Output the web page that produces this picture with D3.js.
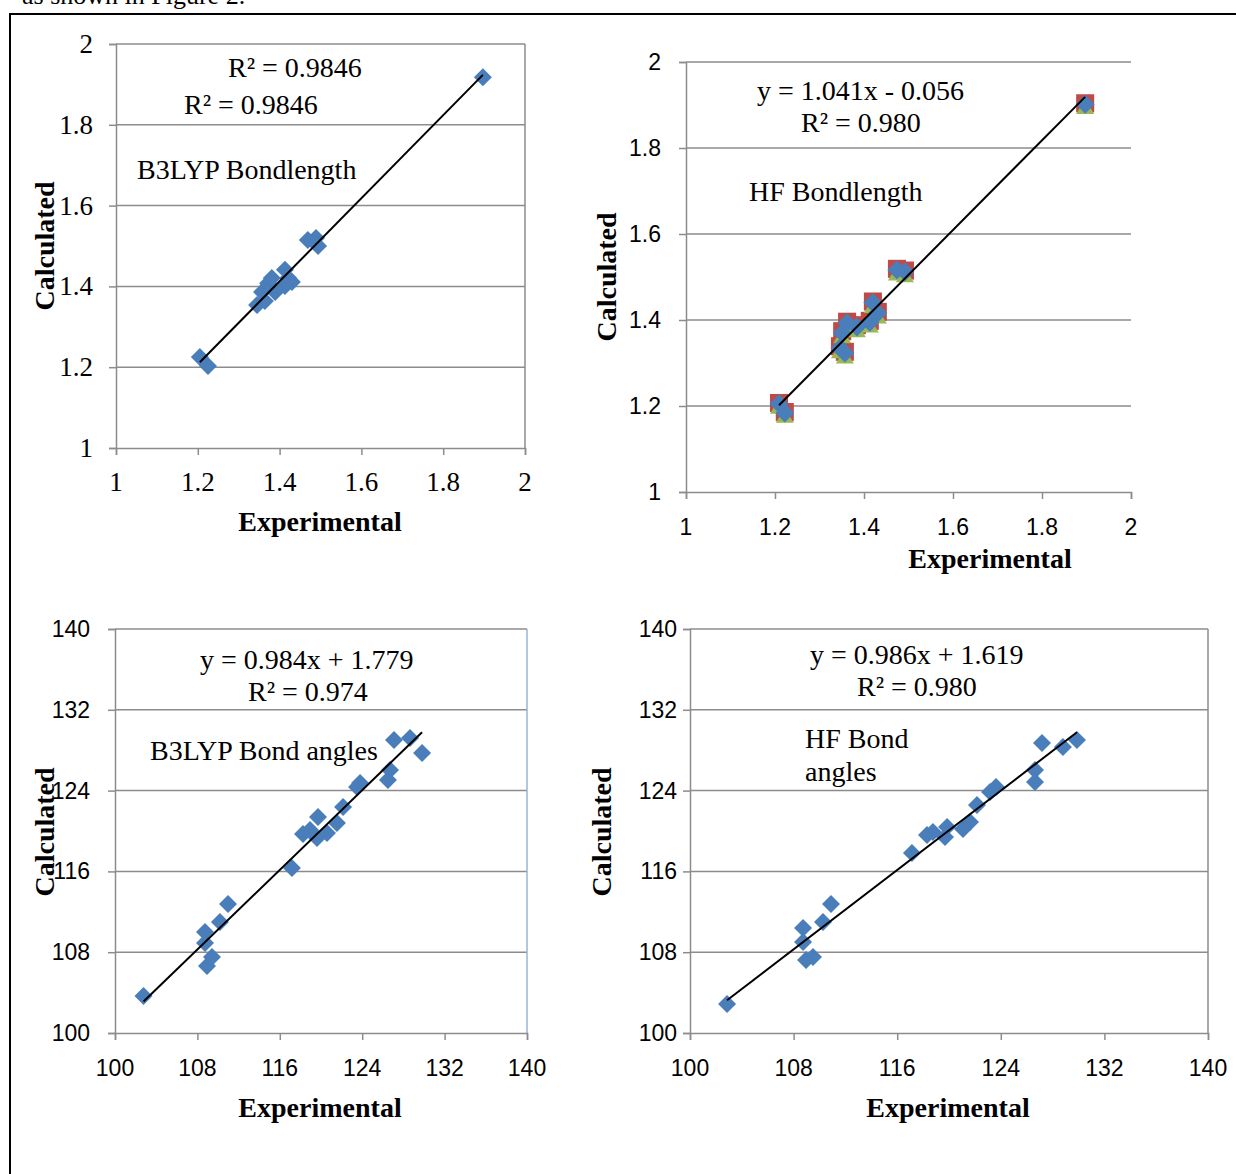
<!DOCTYPE html>
<html lang="en">
<head>
    <meta charset="UTF-8">
    <title>Experimental vs Calculated</title>
    <style>
        body, html {
            margin: 0;
            padding: 0;
            background-color: #ffffff;
        }
        svg {
            display: block;
        }
    </style>
</head>
<body>
    <script src="https://d3js.org/d3.v7.min.js"></script>
    <script>
        // --- data ---
        // B3LYP bond lengths
        var b3lypLenExp  = [1.205, 1.225, 1.345, 1.357, 1.372, 1.381, 1.413, 1.421, 1.430, 1.413, 1.389, 1.364, 1.469, 1.489, 1.494, 1.897];
        var b3lypLenCalc = [1.225, 1.203, 1.354, 1.386, 1.408, 1.421, 1.441, 1.421, 1.411, 1.401, 1.386, 1.364, 1.515, 1.520, 1.500, 1.918];

        // HF bond lengths (three overlapping series)
        var hfLenExp   = [1.209, 1.222, 1.346, 1.357, 1.351, 1.362, 1.384, 1.413, 1.420, 1.431, 1.474, 1.492, 1.897];
        var hfLenCalcA = [1.205, 1.184, 1.335, 1.323, 1.370, 1.393, 1.384, 1.395, 1.440, 1.416, 1.516, 1.512, 1.902];
        var hfLenCalcB = [1.207, 1.186, 1.339, 1.326, 1.374, 1.396, 1.388, 1.398, 1.443, 1.419, 1.519, 1.515, 1.904];
        var hfLenCalcC = [1.203, 1.182, 1.332, 1.320, 1.367, 1.390, 1.381, 1.392, 1.437, 1.413, 1.513, 1.509, 1.900];

        // B3LYP bond angles
        var b3lypAngExp  = [102.77, 108.93, 109.42, 108.74, 108.74, 110.19, 110.97, 117.18, 118.25, 118.93, 119.71, 119.61, 120.58, 121.55, 122.14, 123.50, 123.79, 126.70, 126.50, 127.09, 128.64, 129.81];
        var b3lypAngCalc = [103.66, 106.63, 107.52, 108.91, 110.00, 110.99, 112.77, 116.34, 119.70, 120.10, 121.39, 119.31, 119.80, 120.79, 122.38, 124.36, 124.75, 126.04, 125.05, 129.01, 129.21, 127.72];

        // HF bond angles
        var hfAngExp  = [102.86, 108.96, 109.50, 108.73, 108.73, 110.27, 110.89, 117.14, 118.30, 118.76, 119.69, 119.85, 121.08, 121.62, 122.16, 123.17, 123.63, 126.64, 126.64, 127.18, 128.80, 129.88];
        var hfAngCalc = [102.87, 107.23, 107.52, 109.01, 110.40, 110.99, 112.77, 117.82, 119.60, 119.90, 119.41, 120.40, 120.20, 120.89, 122.57, 123.86, 124.36, 126.04, 124.85, 128.71, 128.32, 129.01];

        // tick labels
        var lenTicks = [1, 1.2, 1.4, 1.6, 1.8, 2];
        var angTicks = [100, 108, 116, 124, 132, 140];

        var width = 1236, height = 1174;
        var serif = "'Liberation Serif', 'Times New Roman', serif";
        var sans = "'Liberation Sans', Arial, sans-serif";
        var blue = "#4A7EBB", red = "#BE4B48", green = "#98B954";
        var gridColor = "#8c8c8c";

        var svg = d3.select("body").append("svg")
            .attr("width", width)
            .attr("height", height);

        // clipped caption line from the page above (cut off in the original too)
        svg.append("text")
            .attr("x", 22).attr("y", 4)
            .attr("font-family", serif).attr("font-size", 26)
            .text("as shown in Figure 2.");

        // outer frame
        svg.append("rect")
            .attr("x", 10).attr("y", 14)
            .attr("width", 1240).attr("height", 1200)
            .attr("fill", "none").attr("stroke", "#000").attr("stroke-width", 2);

        function pair(xs, ys) {
            return xs.map(function(d, i) { return [d, ys[i]]; });
        }

        function fit(pts) {
            var mx = d3.mean(pts, function(d) { return d[0]; }),
                my = d3.mean(pts, function(d) { return d[1]; });
            var sxy = d3.sum(pts, function(d) { return (d[0] - mx) * (d[1] - my); }),
                sxx = d3.sum(pts, function(d) { return (d[0] - mx) * (d[0] - mx); });
            var m = sxy / sxx;
            return { m: m, b: my - m * mx };
        }

        function diamond(r) {
            return "M0," + (-r) + "L" + r + ",0L0," + r + "L" + (-r) + ",0Z";
        }

        function panel(cfg) {
            var x = d3.scaleLinear().domain(cfg.domain).range([cfg.x0, cfg.x1]);
            var y = d3.scaleLinear().domain(cfg.domain).range([cfg.y0, cfg.y1]);
            var g = svg.append("g");

            // gridlines
            g.selectAll(".grid").data(cfg.ticks.slice(1)).enter().append("line")
                .attr("x1", cfg.x0).attr("x2", cfg.x1)
                .attr("y1", function(d) { return y(d); })
                .attr("y2", function(d) { return y(d); })
                .attr("stroke", gridColor).attr("stroke-width", 1.5);

            if (cfg.rightBorder) {
                g.append("line")
                    .attr("x1", cfg.x1).attr("x2", cfg.x1)
                    .attr("y1", cfg.y0).attr("y2", cfg.y1)
                    .attr("stroke", cfg.rightBorder).attr("stroke-width", 1.5);
            }

            // axes
            var xAxis = d3.axisBottom(x).tickValues(cfg.ticks).tickSize(7).tickFormat("");
            var yAxis = d3.axisLeft(y).tickValues(cfg.ticks).tickSize(7).tickFormat("");
            var gx = g.append("g").attr("transform", "translate(0," + cfg.y0 + ")").call(xAxis);
            var gy = g.append("g").attr("transform", "translate(" + cfg.x0 + ",0)").call(yAxis);
            [gx, gy].forEach(function(a) {
                a.select(".domain").attr("stroke", gridColor).attr("stroke-width", 1.5);
                a.selectAll(".tick line").attr("stroke", gridColor).attr("stroke-width", 1.5);
            });

            // tick labels
            g.selectAll(".xl").data(cfg.ticks).enter().append("text")
                .attr("x", function(d) { return x(d); })
                .attr("y", cfg.xLabelY)
                .attr("text-anchor", "middle").attr("dominant-baseline", "central")
                .attr("font-family", cfg.tickFont).attr("font-size", cfg.tickSize)
                .text(function(d) { return d; });
            g.selectAll(".yl").data(cfg.ticks).enter().append("text")
                .attr("x", cfg.yLabelX)
                .attr("y", function(d) { return y(d); })
                .attr("text-anchor", "end").attr("dominant-baseline", "central")
                .attr("font-family", cfg.tickFont).attr("font-size", cfg.tickSize)
                .text(function(d) { return d; });

            // axis titles
            g.append("text")
                .attr("x", cfg.xTitle[0]).attr("y", cfg.xTitle[1])
                .attr("text-anchor", "middle")
                .attr("font-family", serif).attr("font-weight", "bold").attr("font-size", 28)
                .text("Experimental");
            g.append("text")
                .attr("transform", "translate(" + cfg.yTitle[0] + "," + cfg.yTitle[1] + ") rotate(-90)")
                .attr("text-anchor", "middle").attr("dominant-baseline", "central")
                .attr("font-family", serif).attr("font-weight", "bold").attr("font-size", 28)
                .text("Calculated");

            // markers
            var r = cfg.r;
            (cfg.extra || []).forEach(function(s) {
                var mk = g.selectAll(null).data(pair(cfg.xs, s.ys)).enter();
                if (s.shape === "square") {
                    mk.append("rect")
                        .attr("x", function(d) { return x(d[0]) - r * 0.95; })
                        .attr("y", function(d) { return y(d[1]) - r * 0.95; })
                        .attr("width", r * 1.9).attr("height", r * 1.9)
                        .attr("fill", s.color);
                } else {
                    mk.append("path")
                        .attr("transform", function(d) { return "translate(" + x(d[0]) + "," + y(d[1]) + ")"; })
                        .attr("d", "M0," + (-r * 0.6) + "L" + (r * 0.95) + "," + (r * 0.95) + "L" + (-r * 0.95) + "," + (r * 0.95) + "Z")
                        .attr("fill", s.color);
                }
            });
            var pts = pair(cfg.xs, cfg.ys);
            g.selectAll(null).data(pts).enter().append("path")
                .attr("transform", function(d) { return "translate(" + x(d[0]) + "," + y(d[1]) + ")"; })
                .attr("d", diamond(r))
                .attr("fill", blue);

            // linear trendline
            var f = fit(pts);
            var ext = d3.extent(cfg.xs);
            g.append("line")
                .attr("x1", x(ext[0])).attr("y1", y(f.m * ext[0] + f.b))
                .attr("x2", x(ext[1])).attr("y2", y(f.m * ext[1] + f.b))
                .attr("stroke", "#000").attr("stroke-width", 2);

            // annotations
            cfg.notes.forEach(function(n) {
                g.append("text")
                    .attr("x", n[0]).attr("y", n[1])
                    .attr("font-family", serif).attr("font-size", 28)
                    .text(n[2]);
            });
        }

        panel({
            domain: [1, 2], ticks: lenTicks,
            x0: 116, x1: 525, y0: 448, y1: 44,
            xs: b3lypLenExp, ys: b3lypLenCalc, r: 9,
            rightBorder: gridColor,
            tickFont: serif, tickSize: 27,
            xLabelY: 482, yLabelX: 93,
            xTitle: [320, 531], yTitle: [44, 246],
            notes: [[228, 77, "R² = 0.9846"], [184, 114, "R² = 0.9846"], [137, 179, "B3LYP Bondlength"]]
        });

        panel({
            domain: [1, 2], ticks: lenTicks,
            x0: 686, x1: 1131, y0: 492, y1: 62,
            xs: hfLenExp, ys: hfLenCalcA, r: 9.5,
            extra: [{ ys: hfLenCalcB, shape: "square", color: red }, { ys: hfLenCalcC, shape: "triangle", color: green }],
            tickFont: sans, tickSize: 23,
            xLabelY: 527, yLabelX: 661,
            xTitle: [990, 568], yTitle: [606, 277],
            notes: [[757, 100, "y = 1.041x - 0.056"], [801, 132, "R² = 0.980"], [749, 201, "HF Bondlength"]]
        });

        panel({
            domain: [100, 140], ticks: angTicks,
            x0: 115, x1: 527, y0: 1033, y1: 629,
            xs: b3lypAngExp, ys: b3lypAngCalc, r: 9,
            rightBorder: "#9ab5d8",
            tickFont: sans, tickSize: 23,
            xLabelY: 1068, yLabelX: 90,
            xTitle: [320, 1117], yTitle: [44, 832],
            notes: [[200, 669, "y = 0.984x + 1.779"], [248, 701, "R² = 0.974"], [150, 760, "B3LYP Bond angles"]]
        });

        panel({
            domain: [100, 140], ticks: angTicks,
            x0: 690, x1: 1208, y0: 1033, y1: 629,
            xs: hfAngExp, ys: hfAngCalc, r: 9,
            rightBorder: gridColor,
            tickFont: sans, tickSize: 23,
            xLabelY: 1068, yLabelX: 677,
            xTitle: [948, 1117], yTitle: [601, 832],
            notes: [[810, 664, "y = 0.986x + 1.619"], [857, 696, "R² = 0.980"], [805, 748, "HF Bond"], [805, 781, "angles"]]
        });
    </script>
</body>
</html>
